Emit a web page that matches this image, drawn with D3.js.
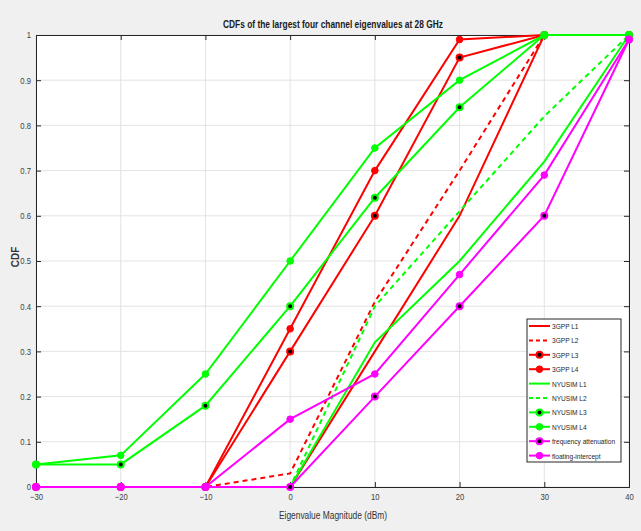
<!DOCTYPE html>
<html><head><meta charset="utf-8">
<script src="https://cdn.jsdelivr.net/npm/d3@7"></script>
<style>
html,body{margin:0;padding:0;background:#f0f0f0;}
svg{display:block;}
</style></head>
<body>
<script>
const xVals = [-30, -20, -10, 0, 10, 20, 30, 40];
const xTicks = [-30, -20, -10, 0, 10, 20, 30, 40];
const yTicks = [0, 0.1, 0.2, 0.3, 0.4, 0.5, 0.6, 0.7, 0.8, 0.9, 1];

const gpp1 = [0, 0, 0, 0, 0.30, 0.60, 1.00, 1.00];
const gpp2 = [0, 0, 0, 0.03, 0.41, 0.70, 1.00, 1.00];
const gpp3 = [0, 0, 0, 0.30, 0.60, 0.95, 1.00, 1.00];
const gpp4 = [0, 0, 0, 0.35, 0.70, 0.99, 1.00, 1.00];
const nyu1 = [0, 0, 0, 0, 0.32, 0.50, 0.72, 1.00];
const nyu2 = [0, 0, 0, 0, 0.40, 0.61, 0.82, 1.00];
const nyu3 = [0.05, 0.05, 0.18, 0.40, 0.64, 0.84, 1.00, 1.00];
const nyu4 = [0.05, 0.07, 0.25, 0.50, 0.75, 0.90, 1.00, 1.00];
const freqAtt = [0, 0, 0, 0, 0.20, 0.40, 0.60, 0.99];
const floatInt = [0, 0, 0, 0.15, 0.25, 0.47, 0.69, 0.99];

const seriesNames = ["3GPP L1","3GPP L2","3GPP L3","3GPP L4","NYUSIM L1","NYUSIM L2","NYUSIM L3","NYUSIM L4","frequency attenuation","floating-intercept"];
const seriesValues = [gpp1, gpp2, gpp3, gpp4, nyu1, nyu2, nyu3, nyu4, freqAtt, floatInt];
const seriesColors = ["#ff0000","#ff0000","#ff0000","#ff0000","#00ff00","#00ff00","#00ff00","#00ff00","#ff00ff","#ff00ff"];
const seriesDash = [null, "5,4", null, null, null, "5,4", null, null, null, null];
const seriesMarker = ["none","none","black","fill","none","none","black","fill","black","fill"];

const W = 641, H = 531;
const L = 36, R = 629, T = 35, B = 487;
const font = "'Liberation Sans',Arial,sans-serif";

const svg = d3.select("body").append("svg").attr("width", W).attr("height", H);
svg.append("rect").attr("width", W).attr("height", H).attr("fill", "#f0f0f0");

const x = d3.scaleLinear().domain([-30, 40]).range([L, R]);
const y = d3.scaleLinear().domain([0, 1]).range([B, T]);

svg.append("rect").attr("x", L).attr("y", T).attr("width", R - L).attr("height", B - T).attr("fill", "#fff");

function squeeze(sel, f) {
  sel.each(function () {
    const n = this.getComputedTextLength();
    d3.select(this).attr("textLength", n * f).attr("lengthAdjust", "spacingAndGlyphs");
  });
}

// grid
const grid = svg.append("g");
grid.selectAll("line.gx").data(xTicks).enter().append("line")
  .attr("x1", d => x(d)).attr("x2", d => x(d)).attr("y1", T).attr("y2", B)
  .attr("stroke", "#e3e3e3").attr("stroke-width", 1);
grid.selectAll("line.gy").data(yTicks).enter().append("line")
  .attr("y1", d => y(d)).attr("y2", d => y(d)).attr("x1", L).attr("x2", R)
  .attr("stroke", "#e3e3e3").attr("stroke-width", 1);

// axes
const tk = 5;
const axB = svg.append("g").attr("transform", `translate(0,${B})`)
  .call(d3.axisBottom(x).tickValues(xTicks).tickSize(-tk).tickPadding(7).tickFormat(d3.format("d")));
const axT = svg.append("g").attr("transform", `translate(0,${T})`)
  .call(d3.axisTop(x).tickValues(xTicks).tickSize(-tk).tickFormat(""));
const axL = svg.append("g").attr("transform", `translate(${L},0)`)
  .call(d3.axisLeft(y).tickValues(yTicks).tickSize(-tk).tickPadding(5).tickFormat(d => d === 0 || d === 1 ? d3.format("d")(d) : d3.format(".1f")(d)));
const axR = svg.append("g").attr("transform", `translate(${R},0)`)
  .call(d3.axisRight(y).tickValues(yTicks).tickSize(-tk).tickFormat(""));
[axB, axT, axL, axR].forEach(a => {
  a.select(".domain").attr("stroke", "#262626").attr("stroke-width", 1);
  a.selectAll(".tick line").attr("stroke", "#262626");
  a.selectAll("text").attr("font-family", font).attr("font-size", 9).attr("fill", "#404040");
  squeeze(a.selectAll("text"), 0.85);
});

// lines
const line = d3.line().x(d => x(d[0])).y(d => y(d[1]));
seriesValues.forEach((vals, i) => {
  const pts = xVals.map((xv, j) => [xv, vals[j]]);
  const g = svg.append("g");
  g.append("path").attr("d", line(pts)).attr("fill", "none")
    .attr("stroke", seriesColors[i]).attr("stroke-width", 2)
    .attr("stroke-dasharray", seriesDash[i]);
  if (seriesMarker[i] !== "none") {
    g.selectAll("circle").data(pts).enter().append("circle")
      .attr("cx", d => x(d[0])).attr("cy", d => y(d[1]))
      .attr("r", seriesMarker[i] === "black" ? 3 : 3.3)
      .attr("fill", seriesMarker[i] === "black" ? "#000" : seriesColors[i])
      .attr("stroke", seriesColors[i]).attr("stroke-width", seriesMarker[i] === "black" ? 2 : 1);
  }
});

// title and labels
const title = svg.append("text").attr("x", 333).attr("y", 28).attr("text-anchor", "middle")
  .attr("font-family", font).attr("font-weight", "bold").attr("font-size", 10.5).attr("fill", "#1a1a1a")
  .text("CDFs of the largest four channel eigenvalues at 28 GHz");
title.attr("textLength", 220).attr("lengthAdjust", "spacingAndGlyphs");
const xl = svg.append("text").attr("x", 333).attr("y", 519).attr("text-anchor", "middle")
  .attr("font-family", font).attr("font-size", 10).attr("fill", "#333")
  .text("Eigenvalue Magnitude (dBm)");
xl.attr("textLength", 108).attr("lengthAdjust", "spacingAndGlyphs");
svg.append("text").attr("transform", "translate(19,257) rotate(-90)").attr("text-anchor", "middle")
  .attr("font-family", font).attr("font-weight", "bold").attr("font-size", 10).attr("fill", "#333")
  .text("CDF");

// legend
const lg = svg.append("g");
const lx = 527, ly = 319, lw = 94, lh = 143, rowH = 14.4;
lg.append("rect").attr("x", lx).attr("y", ly).attr("width", lw).attr("height", lh)
  .attr("fill", "#fff").attr("stroke", "#262626").attr("stroke-width", 1);
seriesNames.forEach((name, i) => {
  const cy = ly + 7 + i * rowH;
  lg.append("line").attr("x1", lx + 2).attr("x2", lx + 23).attr("y1", cy).attr("y2", cy)
    .attr("stroke", seriesColors[i]).attr("stroke-width", 2).attr("stroke-dasharray", seriesDash[i] ? "4,3" : null);
  if (seriesMarker[i] !== "none") {
    lg.append("circle").attr("cx", lx + 12.5).attr("cy", cy)
      .attr("r", seriesMarker[i] === "black" ? 3 : 3.3)
      .attr("fill", seriesMarker[i] === "black" ? "#000" : seriesColors[i])
      .attr("stroke", seriesColors[i]).attr("stroke-width", seriesMarker[i] === "black" ? 2 : 1);
  }
  const t = lg.append("text").attr("x", lx + 25).attr("y", cy + 3)
    .attr("font-family", font).attr("font-size", 8).attr("fill", "#262626").text(name);
  squeeze(t, 0.82);
});
</script>
</body></html>
